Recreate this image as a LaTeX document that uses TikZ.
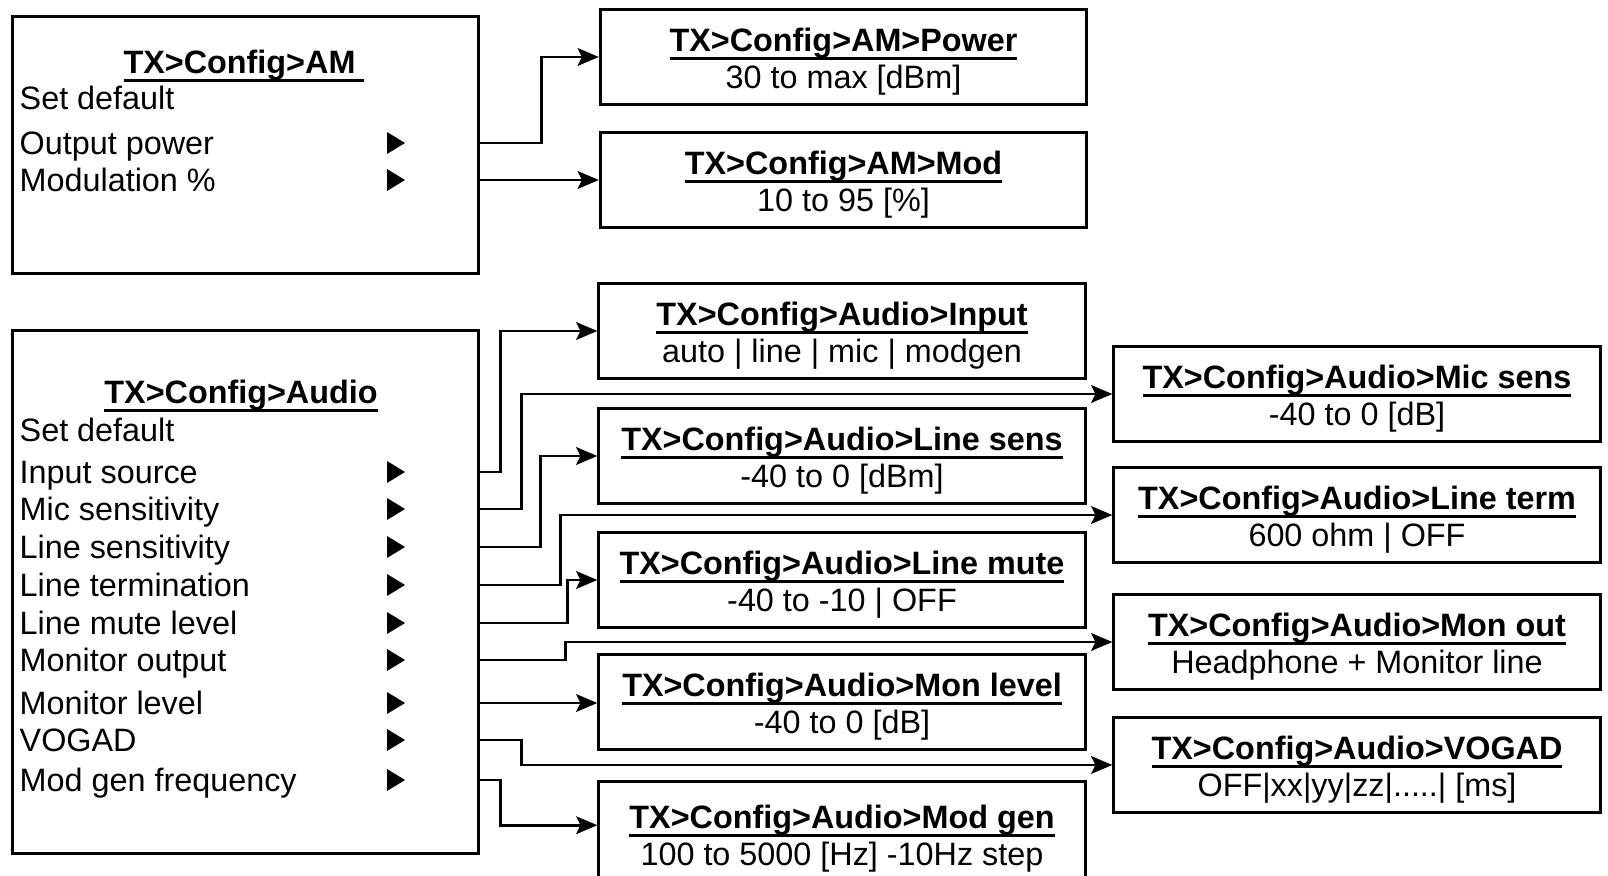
\documentclass[tikz,border=0pt]{standalone}
\usepackage{fontspec}
\setmainfont{Liberation Sans}
\usetikzlibrary{arrows.meta, positioning}

% bold menu title with a thick underline
\newcommand{\menutitle}[1]{\setbox0\hbox{\bfseries #1}\rule{0pt}{9.5pt}\rlap{\vrule height-1.5pt depth2.3pt width\wd0}\box0}
\newcommand{\boxfont}{\fontsize{9.2}{10.5}\selectfont}

\tikzset{
  menubox/.style={draw, line width=0.85pt, inner sep=0pt, minimum width=4.65cm},
  valbox/.style={draw, line width=0.85pt, inner ysep=0pt, minimum width=4.86cm, minimum height=0.95cm, align=center, font=\boxfont},
  item/.style={anchor=west, inner sep=0pt, text height=6.6pt, text depth=0pt, font=\boxfont},
  arr/.style={-{Stealth[length=6pt,width=5pt,inset=1.2pt]}, line width=0.85pt}
}

\begin{document}
\begin{tikzpicture}[x=0.01cm, y=-0.01cm]
  \path[use as bounding box] (0,0) rectangle (1608,876);
  \clip (0,0) rectangle (1608,876);

  % AM menu
  \node[menubox, minimum height=2.56cm] (am) at (245.5,145) {};
  \node[font=\boxfont] (amtitle) at (244,61) {\menutitle{TX>Config>AM\ }};
  \node[item] (amdef) at (19,98) {Set default};
  \node[item] (amout) at (19,143) {Output power};
  \node[item] (ammod) at (19,180) {Modulation \%};

  % Audio menu
  \node[menubox, minimum height=5.22cm] (audio) at (245.5,592) {};
  \node[font=\boxfont] (audiotitle) at (241,391) {\menutitle{TX>Config>Audio}};
  \node[item] (itdef) at (19,430) {Set default};
  \node[item] (itinput) at (19,472) {Input source};
  \node[item] (itmic) at (19,509) {Mic sensitivity};
  \node[item] (itlsens) at (19,547) {Line sensitivity};
  \node[item] (itlterm) at (19,585) {Line termination};
  \node[item] (itlmute) at (19,623) {Line mute level};
  \node[item] (itmonout) at (19,660) {Monitor output};
  \node[item] (itmonlvl) at (19,703) {Monitor level};
  \node[item] (itvogad) at (19,740) {VOGAD};
  \node[item] (itmodgen) at (19,780) {Mod gen frequency};

  % submenu marks
  \coordinate (tri) at (387,0);
  \foreach \r in {amout,ammod,itinput,itmic,itlsens,itlterm,itlmute,itmonout,itmonlvl,itvogad,itmodgen}
    \fill (\r.west -| tri) ++(0,-11) -- ++(18,11) -- ++(-18,11) -- cycle;

  % value boxes
  \node[valbox] (power) at (843.5,57) {\menutitle{TX>Config>AM>Power}\\30 to max [dBm]};
  \node[valbox] (mod) at (843.5,180) {\menutitle{TX>Config>AM>Mod}\\10 to 95 [\%]};
  \node[valbox] (input) at (842,331) {\menutitle{TX>Config>Audio>Input}\\auto | line | mic | modgen};
  \node[valbox] (linesens) at (842,456) {\menutitle{TX>Config>Audio>Line sens}\\-40 to 0 [dBm]};
  \node[valbox] (linemute) at (842,580) {\menutitle{TX>Config>Audio>Line mute}\\-40 to -10 | OFF};
  \node[valbox] (monlevel) at (842,702) {\menutitle{TX>Config>Audio>Mon level}\\-40 to 0 [dB]};
  \node[valbox, minimum height=1.04cm] (modgen) at (842,834) {\menutitle{TX>Config>Audio>Mod gen}\\100 to 5000 [Hz] -10Hz step};
  \node[valbox] (micsens) at (1357,394) {\menutitle{TX>Config>Audio>Mic sens}\\-40 to 0 [dB]};
  \node[valbox] (lineterm) at (1357,515) {\menutitle{TX>Config>Audio>Line term}\\600 ohm | OFF};
  \node[valbox] (monout) at (1357,642) {\menutitle{TX>Config>Audio>Mon out}\\Headphone + Monitor line};
  \node[valbox] (vogad) at (1357,765) {\menutitle{TX>Config>Audio>VOGAD}\\OFF|xx|yy|zz|.....| [ms]};
  \coordinate (modgenin) at ([yshift=2.5pt]modgen.west);

  % connectors
  \draw[arr] (am.east |- amout) -- ++(62,0) |- (power.west);
  \draw[arr] (am.east |- ammod) -- (ammod -| mod.west);
  \draw[arr] (audio.east |- itinput) -- ++(21,0) |- (input.west);
  \draw[arr] (audio.east |- itmic) -- ++(42,0) |- (micsens.west);
  \draw[arr] (audio.east |- itlsens) -- ++(61,0) |- (linesens.west);
  \draw[arr] (audio.east |- itlterm) -- ++(81,0) |- (lineterm.west);
  \draw[arr] (audio.east |- itlmute) -- ++(88,0) |- (linemute.west);
  \draw[arr] (audio.east |- itmonout) -- ++(86,0) |- (monout.west);
  \draw[arr] (audio.east |- itmonlvl) -- (itmonlvl -| monlevel.west);
  \draw[arr] (audio.east |- itvogad) -- ++(42,0) |- (vogad.west);
  \draw[arr] (audio.east |- itmodgen) -- ++(21,0) |- (modgenin);
\end{tikzpicture}
\end{document}
